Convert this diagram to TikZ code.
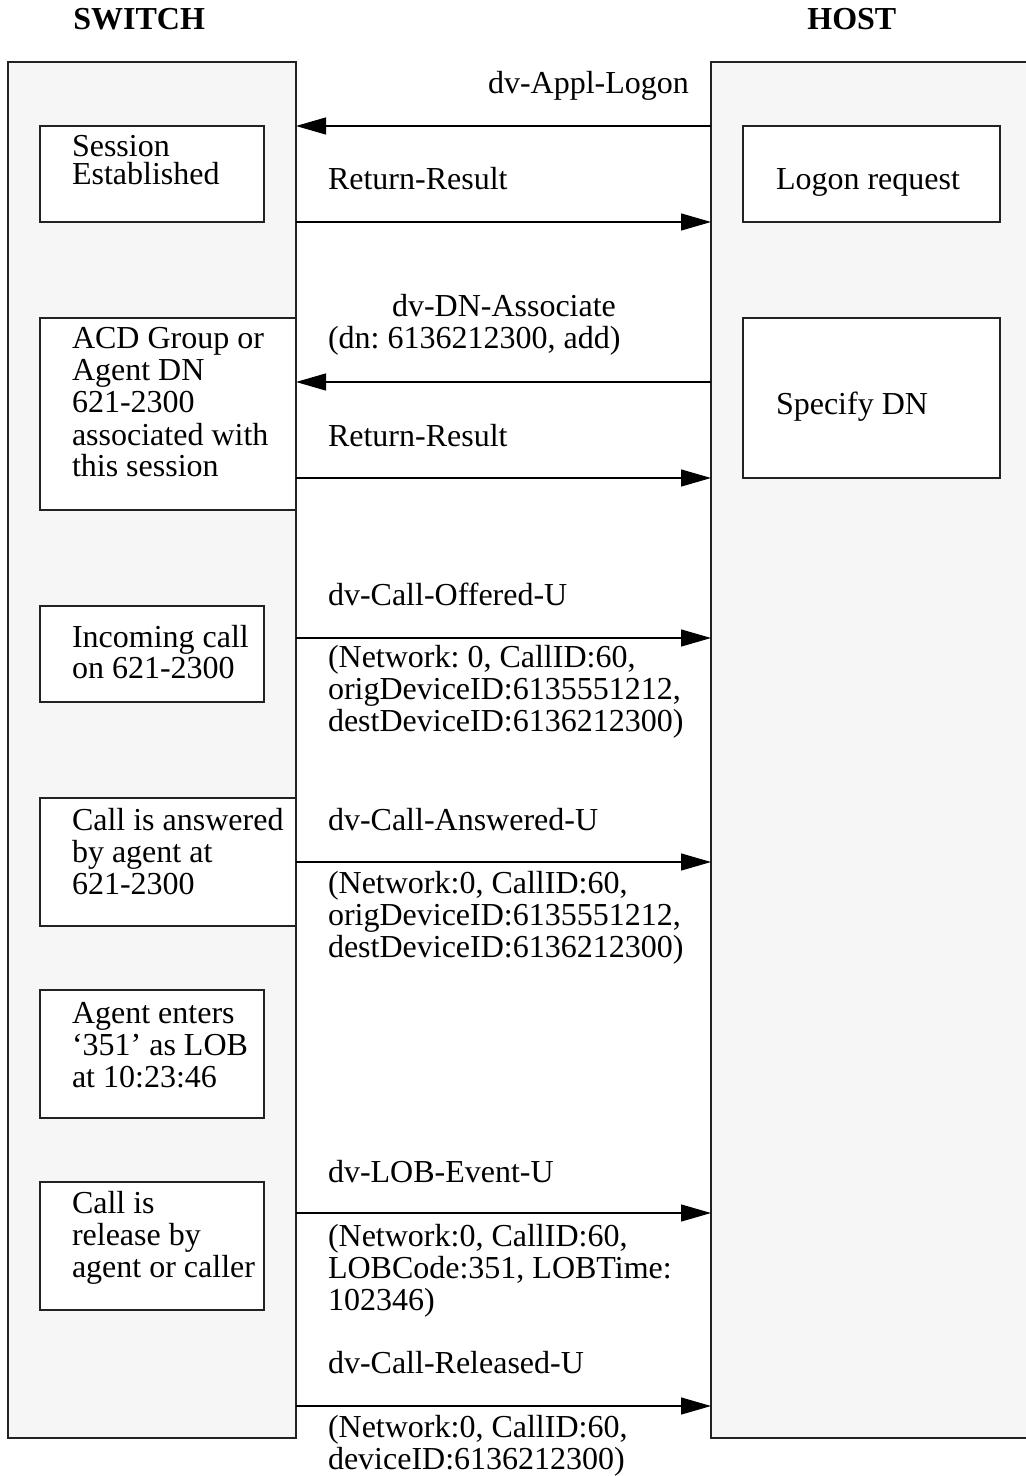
\documentclass[tikz,border=0pt]{standalone}
\usepackage{fontspec}
\setmainfont{Liberation Serif}
\usetikzlibrary{arrows.meta}
\definecolor{panelgray}{HTML}{F6F6F6}
\definecolor{edge}{HTML}{222222}
\frenchspacing
\begin{document}
\begin{tikzpicture}[x=0.5pt,y=-0.5pt,
  font=\fontsize{16}{16}\selectfont\frenchspacing,
  panel/.style={draw=edge,line width=1pt,fill=panelgray,rectangle,
    inner sep=0pt,outer sep=0pt,anchor=north west},
  stepbox/.style={draw=edge,line width=0.8pt,fill=white,rectangle,
    inner sep=0pt,outer sep=0pt,anchor=north west},
  txt/.style={anchor=base west,inner sep=0pt,outer sep=0pt,align=flush left,text width=190pt},
  title/.style={anchor=base west,inner sep=0pt,font=\fontsize{16}{16}\selectfont\bfseries},
  msg/.style={draw=black,line width=0.6pt,-{Triangle[length=15pt,width=8.5pt]}},
]
\useasboundingbox (0,0) rectangle (1026,1476);

% column headings
\node[title] (tswitch) at (73,30) {SWITCH};
\node[title] (thost) at (807,30) {HOST};

% the two columns
\node[panel,minimum width=144pt,minimum height=688pt] (switch) at (8,62) {};
\node[panel,minimum width=170pt,minimum height=688pt] (host) at (711,62) {};

% switch-side boxes
\node[stepbox,minimum width=112pt,minimum height=48pt] (s1) at (40,126) {};
\node[stepbox,minimum width=128pt,minimum height=96pt] (s2) at (40,318) {};
\node[stepbox,minimum width=112pt,minimum height=48pt] (s3) at (40,606) {};
\node[stepbox,minimum width=128pt,minimum height=64pt] (s4) at (40,798) {};
\node[stepbox,minimum width=112pt,minimum height=64pt] (s5) at (40,990) {};
\node[stepbox,minimum width=112pt,minimum height=64pt] (s6) at (40,1182) {};

\node[txt,font=\fontsize{16}{14}\selectfont] (s1t) at (72,157) {Session\\Established};
\node[txt] (s2t) at (72,349) {ACD Group or\\Agent DN\\621-2300\\associated with\\this session};
\node[txt,font=\fontsize{16}{15.5}\selectfont] (s3t) at (72,647) {Incoming call\\on 621-2300};
\node[txt] (s4t) at (72,830) {Call is answered\\by agent at\\621-2300};
\node[txt] (s5t) at (72,1023) {Agent enters\\‘351’ as LOB\\at 10:23:46};
\node[txt] (s6t) at (72,1213) {Call is\\release by\\agent or caller};

% host-side boxes
\node[stepbox,minimum width=128.5pt,minimum height=48pt] (h1) at (743,126) {};
\node[stepbox,minimum width=128.5pt,minimum height=80pt] (h2) at (743,318) {};
\node[txt] (h1t) at (776,190) {Logon request};
\node[txt] (h2t) at (776,414) {Specify DN};

% message levels
\coordinate (y1) at (0,126);
\coordinate (y2) at (0,222);
\coordinate (y3) at (0,382);
\coordinate (y4) at (0,478);
\coordinate (y5) at (0,638);
\coordinate (y6) at (0,862);
\coordinate (y7) at (0,1213);
\coordinate (y8) at (0,1406);

% messages
\draw[msg] (host.west |- y1) -- (switch.east |- y1);
\draw[msg] (switch.east |- y2) -- (host.west |- y2);
\draw[msg] (host.west |- y3) -- (switch.east |- y3);
\draw[msg] (switch.east |- y4) -- (host.west |- y4);
\draw[msg] (switch.east |- y5) -- (host.west |- y5);
\draw[msg] (switch.east |- y6) -- (host.west |- y6);
\draw[msg] (switch.east |- y7) -- (host.west |- y7);
\draw[msg] (switch.east |- y8) -- (host.west |- y8);

% message labels
\node[txt] (m1) at (488,94) {dv-Appl-Logon};
\node[txt] (m2) at (328,190) {Return-Result};
\node[txt] (m3a) at (392,317) {dv-DN-Associate};
\node[txt] (m3b) at (328,349) {(dn: 6136212300, add)};
\node[txt] (m4) at (328,446) {Return-Result};
\node[txt] (m5) at (328,605) {dv-Call-Offered-U};
\node[txt] (m5p) at (328,667) {(Network: 0, CallID:60,\\origDeviceID:6135551212,\\destDeviceID:6136212300)};
\node[txt] (m6) at (328,830) {dv-Call-Answered-U};
\node[txt] (m6p) at (328,893) {(Network:0, CallID:60,\\origDeviceID:6135551212,\\destDeviceID:6136212300)};
\node[txt] (m7) at (328,1182) {dv-LOB-Event-U};
\node[txt] (m7p) at (328,1246) {(Network:0, CallID:60,\\LOBCode:351, LOBTime:\\102346)};
\node[txt] (m8) at (328,1373) {dv-Call-Released-U};
\node[txt] (m8p) at (328,1437) {(Network:0, CallID:60,\\deviceID:6136212300)};
\end{tikzpicture}
\end{document}
